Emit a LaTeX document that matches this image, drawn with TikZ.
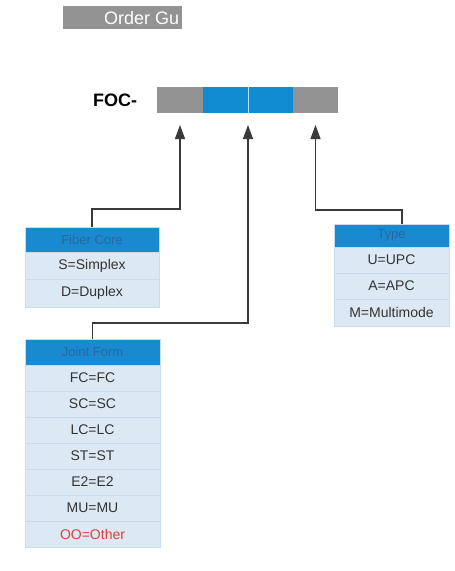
\documentclass[tikz,border=0pt]{standalone}
\usepackage{fontspec}
\setmainfont{Liberation Sans}
\usetikzlibrary{arrows.meta}
\definecolor{bargray}{HTML}{939393}
\definecolor{barblue}{HTML}{0F8CD2}
\definecolor{headblue}{HTML}{1A8AD0}
\definecolor{headtext}{HTML}{2A66A0}
\definecolor{rowblue}{HTML}{DCE9F5}
\definecolor{rowline}{HTML}{C9DCEE}
\definecolor{linegray}{HTML}{3A3A3A}
\definecolor{othered}{HTML}{D9403A}
\tikzset{
  seg/.style={minimum height=26pt, inner sep=0pt, outer sep=0pt, anchor=north west},
  headcell/.style={fill=headblue, draw=rowline, text=headtext, font=\fontsize{13}{15}\selectfont, inner sep=0pt, outer sep=0pt, anchor=north west},
  rowcell/.style={fill=rowblue, draw=rowline, text=black!80, font=\fontsize{14}{16}\selectfont, inner sep=0pt, outer sep=0pt, anchor=north west},
  conn/.style={draw=linegray, line width=1.1pt, -{Triangle[width=10pt,length=14pt]}, shorten >=12pt}
}
\begin{document}
\begin{tikzpicture}[x=1pt,y=-1pt]
\useasboundingbox (0,0) rectangle (455,571);
% banner
\node[fill=bargray, minimum width=119pt, minimum height=23pt, inner sep=0pt, anchor=north west] (banner) at (63,6) {};
\node[text=white, font=\fontsize{18}{20}\selectfont, anchor=west, inner sep=0pt] (bannertext) at (104,18) {Order Gu};
% code bar
\node[font=\bfseries\fontsize{18}{20}\selectfont, anchor=west, inner sep=0pt] (foc) at (93,100) {FOC-};
\node[seg, fill=bargray, minimum width=46pt] (s1) at (157,87) {};
\node[seg, fill=barblue, minimum width=45pt] (s2) at (203,87) {};
\node[seg, fill=barblue, minimum width=45pt] (s3) at (249,87) {};
\node[seg, fill=bargray, minimum width=45pt] (s4) at (293,87) {};
\draw[white!70!barblue, line width=1pt] (s2.north east) -- (s2.south east);
% Fiber Core box
\node[headcell, minimum width=134pt, minimum height=25pt] (fh) at (25,227) {Fiber Core};
\node[rowcell, minimum width=134pt, minimum height=27.5pt] (f1) at (25,252) {S=Simplex};
\node[rowcell, minimum width=134pt, minimum height=27.5pt] (f2) at (25,279.5) {D=Duplex};
% Type box
\node[headcell, minimum width=115pt, minimum height=23pt] (th) at (334,224) {Type};
\node[rowcell, minimum width=115pt, minimum height=26pt] (t1) at (334,247) {U=UPC};
\node[rowcell, minimum width=115pt, minimum height=26pt] (t2) at (334,273) {A=APC};
\node[rowcell, minimum width=115pt, minimum height=27pt] (t3) at (334,299) {M=Multimode};
% Joint Form box
\node[headcell, minimum width=135pt, minimum height=26pt] (jh) at (25,339) {Joint Form};
\node[rowcell, minimum width=135pt, minimum height=26pt] (j1) at (25,365) {FC=FC};
\node[rowcell, minimum width=135pt, minimum height=26pt] (j2) at (25,391) {SC=SC};
\node[rowcell, minimum width=135pt, minimum height=26pt] (j3) at (25,417) {LC=LC};
\node[rowcell, minimum width=135pt, minimum height=26pt] (j4) at (25,443) {ST=ST};
\node[rowcell, minimum width=135pt, minimum height=26pt] (j5) at (25,469) {E2=E2};
\node[rowcell, minimum width=135pt, minimum height=26pt] (j6) at (25,495) {MU=MU};
\node[rowcell, minimum width=135pt, minimum height=26pt, text=othered] (j7) at (25,521) {OO=Other};
% connectors
\draw[conn] (fh.north) -- ++(0,-18) -| (s1.south);
\draw[conn] ([xshift=10.5pt]th.north) -- ++(0,-14) -| (s4.south);
\draw[conn] (jh.north) -- ++(0,-16) -| (s2.south east);
\end{tikzpicture}
\end{document}
